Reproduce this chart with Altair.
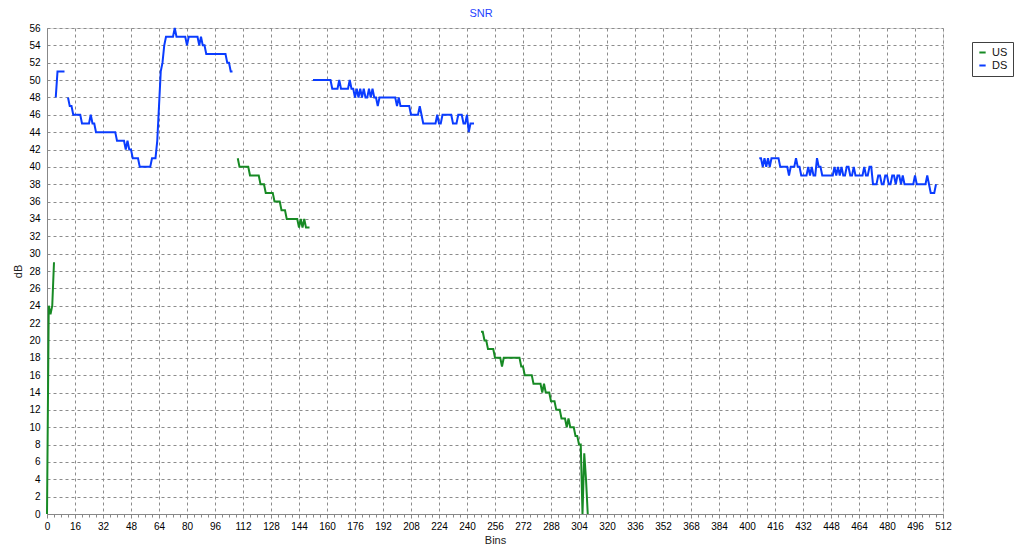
import altair as alt
import pandas as pd

# ---- data (dB per bin) ----
series_names = ["US", "DS"]
series_colors = ["#178a24", "#0a3cff"]

us_seg1_start = 0
us_seg1 = [0, 24, 23, 24, 29]

us_seg2_start = 109
us_seg2 = [41, 40, 40, 40, 40, 40, 40, 39, 39, 39, 39, 39, 39, 38, 38, 38,
           37, 37, 37, 37, 37, 36, 36, 36, 36, 35, 35, 35,
           34, 34, 34, 34, 34, 34, 34, 33, 34, 33, 34, 33, 33, 33]

us_seg3_start = 248
us_seg3 = [21, 21, 20, 20, 19, 19, 19, 19, 18, 18, 18, 18, 17,
           18, 18, 18, 18, 18, 18, 18, 18, 18, 18, 17, 17,
           16, 16, 16, 16, 16, 15, 15, 15, 15, 15, 14, 15, 14, 14, 14,
           13, 13, 13, 12, 12, 12, 11, 11, 11, 10, 11, 10, 10, 10,
           9, 9, 8, 8, 0, 7, 4, 0]

ds_seg1_start = 5
ds_seg1 = [48, 51, 51, 51, 51, 51]

ds_seg2_start = 12
ds_seg2 = [48, 47, 47, 46, 46, 46, 46, 46, 45, 45, 45, 45, 45, 46, 45, 45,
           44, 44, 44, 44, 44, 44, 44, 44, 44, 44, 44, 44,
           43, 43, 43, 43, 43, 42, 43, 42, 42, 41, 41, 41, 41,
           40, 40, 40, 40, 40, 40, 40, 41, 41, 41,
           43, 47, 51, 52, 54, 55, 55, 55, 55, 55, 56,
           55, 55, 55, 55, 55, 55, 54, 55, 55, 55, 55, 55, 55,
           54, 55, 54, 54,
           53, 53, 53, 53, 53, 53, 53, 53, 53, 53, 53, 53,
           52, 52, 51, 51]

ds_seg3_start = 152
ds_seg3 = [50, 50, 50, 50, 50, 50, 50, 50, 50, 50, 50,
           49, 49, 49, 49, 50, 49, 49, 49, 49, 49, 50, 49, 49,
           48, 49, 48, 49, 48, 49, 48, 48, 49, 48, 49, 48, 48, 47, 48,
           48, 48, 48, 48, 48, 48, 48, 48, 48,
           47, 48, 47, 47, 47, 47, 47, 47,
           46, 46, 46, 46, 46, 47, 46,
           45, 45, 45, 45, 45, 45, 45, 45, 46, 45, 45,
           46, 46, 46, 46, 46, 46, 45, 45, 45, 46, 46, 46,
           45, 45, 46, 44, 45, 45, 45]

ds_seg4_start = 407
ds_seg4 = [41, 41, 40, 41, 40, 41, 40, 41, 41, 41, 41, 41,
           40, 40, 40, 40, 40, 39, 40, 40, 40, 41, 40, 40,
           39, 39, 39, 39, 40, 39, 40, 39, 39, 41, 40, 40,
           39, 39, 39, 39, 39, 39, 39,
           40, 39, 40, 39, 40, 39, 39, 40, 40, 39, 39, 40,
           39, 39, 39, 39, 39, 40, 39, 39, 40, 40,
           38, 38, 38, 39, 39, 38, 38, 39, 39, 38, 38, 39, 39, 38, 39, 39, 38, 39, 38,
           38, 38, 38, 38, 38, 39, 38, 38, 38, 38, 38,
           38, 39, 38, 37, 37, 37, 38]

x_ticks = list(range(0, 513, 4))
y_ticks = list(range(0, 57, 2))

segments = [
    ("US", "us1", us_seg1_start, us_seg1),
    ("US", "us2", us_seg2_start, us_seg2),
    ("US", "us3", us_seg3_start, us_seg3),
    ("DS", "ds1", ds_seg1_start, ds_seg1),
    ("DS", "ds2", ds_seg2_start, ds_seg2),
    ("DS", "ds3", ds_seg3_start, ds_seg3),
    ("DS", "ds4", ds_seg4_start, ds_seg4),
]
rows = []
for name, seg, start, vals in segments:
    for i, v in enumerate(vals):
        rows.append({"series": name, "seg": seg, "bin": start + i, "db": v})
df = pd.DataFrame(rows)

FONT = "Liberation Sans"
GRID = "#8c8c8c"

chart = alt.Chart(df).mark_line(strokeWidth=2, strokeJoin="miter").encode(
    x=alt.X("bin:Q",
            scale=alt.Scale(domain=[0, 512], nice=False, zero=False),
            axis=alt.Axis(
                title="Bins", values=x_ticks,
                labelExpr="datum.value % 16 === 0 ? datum.label : ''",
                labelOverlap=False, labelFlush=False,
                grid=True, gridColor=GRID, gridDash=[3, 3], gridWidth=1,
                gridOpacity={"condition": {"test": "datum.value % 16 === 0", "value": 1}, "value": 0},
                tickSize={"condition": {"test": "datum.value % 16 === 0", "value": 4}, "value": 3},
                labelPadding=3, titlePadding=3,
                titleFontWeight="normal", titleFont=FONT, titleFontSize=11, titleColor="#222",
            )),
    y=alt.Y("db:Q",
            scale=alt.Scale(domain=[0, 56], nice=False),
            axis=alt.Axis(title="dB", values=y_ticks, tickSize=0, labelPadding=7,
                          grid=True, gridColor=GRID, gridDash=[3, 3], gridWidth=1,
                          titlePadding=5, labelOverlap=False, labelFlush=False,
                          titleFontWeight="normal", titleFont=FONT, titleFontSize=11,
                          titleColor="#222")),
    color=alt.Color("series:N",
                    scale=alt.Scale(domain=series_names, range=series_colors),
                    legend=alt.Legend(title=None, orient="none", legendX=925, legendY=14,
                                      symbolType="stroke", symbolSize=40, symbolStrokeWidth=2,
                                      strokeColor="#404040", fillColor="white", padding=5,
                                      labelFontSize=11, labelFont=FONT, labelColor="#111",
                                      rowPadding=1, labelOffset=4)),
    detail="seg:N",
).properties(
    width=896, height=486,
    title=alt.TitleParams(text="SNR", color="#1f3fff", fontSize=11, font=FONT,
                          fontWeight="normal", dx=-14, offset=4),
    autosize=alt.AutoSizeParams(type="none"),
    padding={"left": 39, "top": 20, "right": 72, "bottom": 30},
).configure_axis(
    labelFont=FONT, labelFontSize=11, labelColor="#222",
    domainColor="#000", domainWidth=2, tickColor="#333",
).configure_view(
    stroke="#808080", strokeWidth=1,
).configure(background="white")

chart.save("out.html", embed_options={"renderer": "svg", "actions": False})
